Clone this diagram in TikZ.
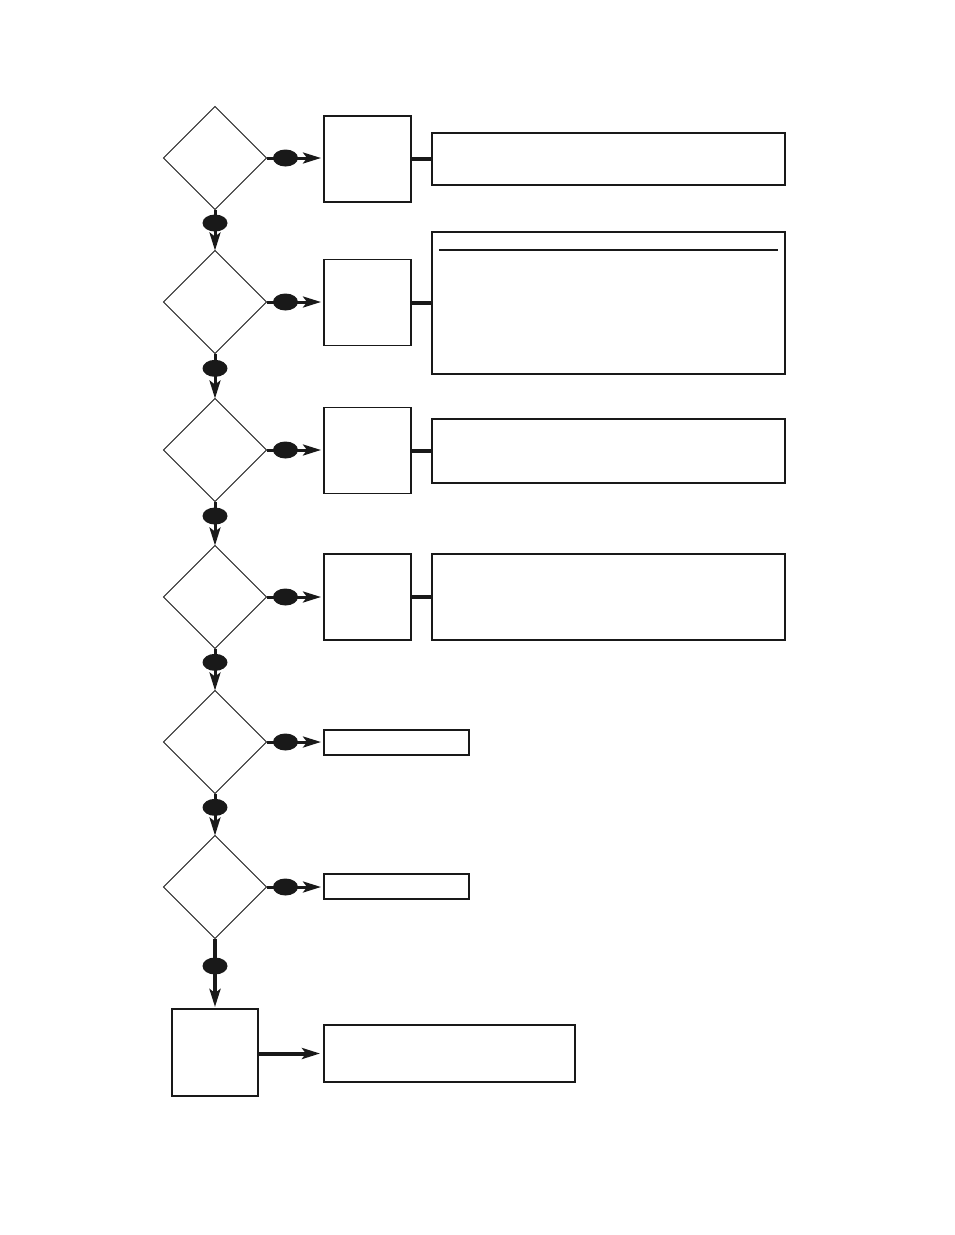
\documentclass[tikz,border=0pt]{standalone}
\usetikzlibrary{shapes.geometric,arrows.meta}
\begin{document}
\begin{tikzpicture}[x=1pt,y=-1pt,
  dia/.style={draw=black!90,shape=diamond,line width=1pt,minimum width=103pt,minimum height=103pt,inner sep=0pt,outer sep=0pt},
  sbox/.style={draw=black!90,line width=1.3pt,minimum width=87pt,minimum height=86pt,inner sep=0pt,outer sep=0pt},
  bbox/.style={draw=black!90,line width=1.6pt,inner sep=0pt,outer sep=0pt},
  flow/.style={draw=black!90,line width=3pt,-{Stealth[length=18pt,width=11pt,inset=4pt]}},
  link/.style={draw=black!90,line width=4pt},
  oval/.style={fill=black!90,ellipse,minimum width=25pt,minimum height=17pt,inner sep=0pt}]
\useasboundingbox (0,0) rectangle (954,1235);
% decisions
\node[dia] (d1) at (215,158) {};
\node[dia] (d2) at (215,302) {};
\node[dia] (d3) at (215,450) {};
\node[dia] (d4) at (215,597) {};
\node[dia] (d5) at (215,742) {};
\node[dia] (d6) at (215,887) {};
% small boxes
\node[sbox] (b1) at (367.5,159) {};
\node[sbox] (b2) at (367.5,302.5) {};
\node[sbox] (b3) at (367.5,450.5) {};
\node[sbox] (b4) at (367.5,597) {};
% big boxes
\node[bbox,minimum width=353pt,minimum height=52pt] (g1) at (608.5,159) {};
\node[bbox,minimum width=353pt,minimum height=142pt] (g2) at (608.5,303) {};
\node[bbox,minimum width=353pt,minimum height=64pt] (g3) at (608.5,451) {};
\node[bbox,minimum width=353pt,minimum height=86pt] (g4) at (608.5,597) {};
\draw[black!90,line width=1.1pt] ([xshift=7pt,yshift=-18pt]g2.north west) -- ([xshift=-7pt,yshift=-18pt]g2.north east);
% narrow boxes
\node[bbox,line width=1.2pt,minimum width=145pt,minimum height=25pt] (b5) at (396.5,742.5) {};
\node[bbox,line width=1.2pt,minimum width=145pt,minimum height=25pt] (b6) at (396.5,886.5) {};
% final
\node[sbox,minimum height=87pt,minimum width=86pt] (fb) at (215,1052.5) {};
\node[bbox,minimum width=251pt,minimum height=57pt] (g7) at (449.5,1053.5) {};
% horizontal yes-arrows
\foreach \d/\b in {d1/b1,d2/b2,d3/b3,d4/b4,d5/b5,d6/b6}{
  \draw[flow,shorten >=3pt] (\d.east) -- node[oval,pos=0.33]{} (\d.east -| \b.west);
}
% vertical no-arrows
\foreach \a/\c in {d1/d2,d2/d3,d3/d4,d4/d5,d5/d6}{
  \draw[flow] (\a.south) -- node[oval,pos=0.33]{} (\c.north);
}
\draw[flow,line width=4pt,shorten >=2pt] (d6.south) -- node[oval,pos=0.39]{} (fb.north);
% box-to-box links
\foreach \b/\g in {b1/g1,b2/g2,b3/g3,b4/g4}{
  \draw[link] (\b.east) -- (\b.east -| \g.west);
}
\draw[flow,line width=4pt,shorten >=4pt] (fb.east |- g7.west) -- (g7.west);
\end{tikzpicture}
\end{document}
